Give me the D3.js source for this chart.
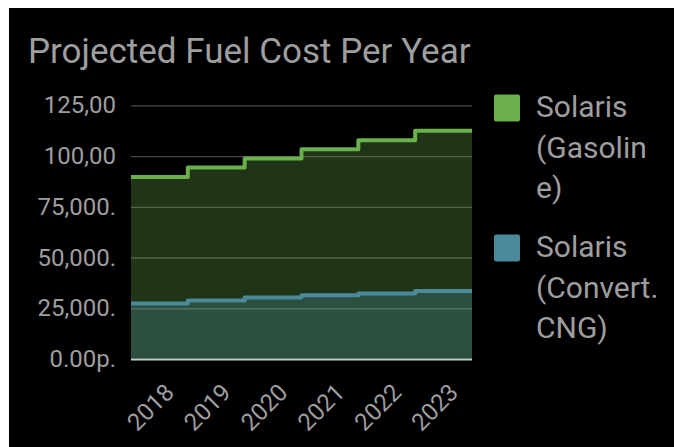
<!DOCTYPE html>
<html>
<head>
<meta charset="utf-8">
<script src="https://d3js.org/d3.v7.min.js"></script>
<style>
  body { margin: 0; background: #fff; }
  svg { display: block; }
  text { font-family: Roboto, "Noto Sans", sans-serif; fill: #9e9e9e; }
</style>
</head>
<body>
<div id="chart"></div>
<script>
// chart data
var years = ["2018", "2019", "2020", "2021", "2022", "2023"];
var gasoline = [89700, 94300, 98800, 103300, 107800, 112400];
var cng = [27400, 28800, 30300, 31400, 32300, 33500];
var yTicks = [0, 25000, 50000, 75000, 100000, 125000];
var yTickLabels = ["0.00p.", "25,000.", "50,000.", "75,000.", "100,00", "125,00"];
var legendLines = [["Solaris", "(Gasolin", "e)"], ["Solaris", "(Convert.", "CNG)"]];
var colors = ["#6ab04c", "#4a8a9b"];

var width = 674, height = 447;
var plot = {left: 131, right: 472, top: 105.3, bottom: 359};

var svg = d3.select("#chart").append("svg")
    .attr("width", width)
    .attr("height", height);

// black card, leaves a thin white edge top and left
svg.append("rect")
    .attr("x", 9).attr("y", 8)
    .attr("width", width - 9).attr("height", height - 8)
    .attr("fill", "#000");

svg.append("text")
    .attr("x", 28).attr("y", 63)
    .style("font-size", "35px")
    .text("Projected Fuel Cost Per Year");

var x = d3.scaleBand()
    .domain(years)
    .range([plot.left, plot.right])
    .padding(0);

var y = d3.scaleLinear()
    .domain([0, 125000])
    .range([plot.bottom, plot.top]);

// y axis + gridlines (under the areas)
var yAxis = svg.append("g")
    .attr("transform", "translate(" + plot.left + ",0)")
    .call(d3.axisLeft(y)
        .tickValues(yTicks)
        .tickSizeInner(-(plot.right - plot.left))
        .tickSizeOuter(0)
        .tickPadding(15)
        .tickFormat(function(d, i) { return yTickLabels[i]; }));
yAxis.select(".domain").remove();
yAxis.selectAll("line")
    .attr("stroke", function(d) { return d === 0 ? "#cccccc" : "#484848"; })
    .attr("stroke-width", function(d) { return d === 0 ? 2 : 1.3; });
yAxis.selectAll("text")
    .attr("fill", null)
    .style("font-size", "24px");

// x axis, slanted labels
var xAxis = svg.append("g")
    .attr("transform", "translate(0," + plot.bottom + ")")
    .call(d3.axisBottom(x).tickSize(0).tickPadding(0));
xAxis.select(".domain").remove();
xAxis.selectAll("text")
    .attr("fill", null)
    .attr("y", 0).attr("dy", 0)
    .style("font-size", "24px")
    .style("text-anchor", "end")
    .attr("transform", "translate(16,35) rotate(-45)");

function steps(values) {
  var pts = [];
  values.forEach(function(v, i) {
    pts.push([x(years[i]), v]);
    pts.push([x(years[i]) + x.bandwidth(), v]);
  });
  return pts;
}

var area = d3.area()
    .x(function(d) { return d[0]; })
    .y0(y(0))
    .y1(function(d) { return y(d[1]); });

var line = d3.line()
    .x(function(d) { return d[0]; })
    .y(function(d) { return y(d[1]); });

var series = [gasoline, cng];

svg.selectAll(".area")
    .data(series)
  .enter().append("path")
    .attr("class", "area")
    .attr("d", function(d) { return area(steps(d)); })
    .attr("fill", function(d, i) { return colors[i]; })
    .attr("fill-opacity", 0.3);

svg.selectAll(".line")
    .data(series)
  .enter().append("path")
    .attr("class", "line")
    .attr("d", function(d) { return line(steps(d)); })
    .attr("fill", "none")
    .attr("stroke", function(d, i) { return colors[i]; })
    .attr("stroke-width", 4)
    .attr("stroke-linejoin", "round");

// legend
var legend = svg.selectAll(".legend")
    .data(legendLines)
  .enter().append("g")
    .attr("class", "legend")
    .attr("transform", function(d, i) { return "translate(494," + (94.5 + i * 140) + ")"; });

legend.append("rect")
    .attr("width", 26).attr("height", 27)
    .attr("rx", 2)
    .attr("fill", function(d, i) { return colors[i]; });

legend.selectAll("text")
    .data(function(d) { return d; })
  .enter().append("text")
    .attr("x", 42)
    .attr("y", function(d, j) { return 22.5 + j * 40.5; })
    .style("font-size", "30px")
    .text(function(d) { return d; });
</script>
</body>
</html>
